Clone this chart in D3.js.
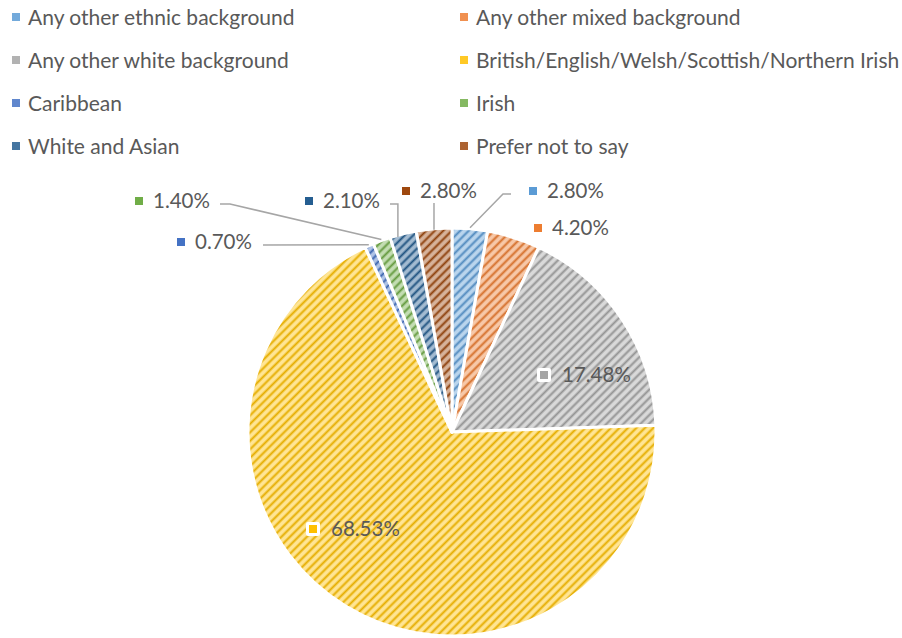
<!DOCTYPE html>
<html>
<head>
<meta charset="utf-8">
<script src="https://cdn.jsdelivr.net/npm/d3@7"></script>
<style>
  html, body { margin: 0; padding: 0; background: #fff; }
  svg { display: block; }
  text { font-family: Lato, "Open Sans", sans-serif; fill: #595959; }
</style>
</head>
<body>
<svg id="chart" width="902" height="638"></svg>
<script>
// Ethnic background of respondents (share of total, %)
const categories = [
  "Any other ethnic background",
  "Any other mixed background",
  "Any other white background",
  "British/English/Welsh/Scottish/Northern Irish",
  "Caribbean",
  "Irish",
  "White and Asian",
  "Prefer not to say"
];
const values = [2.80, 4.20, 17.48, 68.53, 0.70, 1.40, 2.10, 2.80];
const valueLabels = ["2.80%", "4.20%", "17.48%", "68.53%", "0.70%", "1.40%", "2.10%", "2.80%"];
const colors = ["#5B9BD5", "#ED7D31", "#A5A5A5", "#FFC000", "#4472C4", "#70AD47", "#255E91", "#9E480E"];

// Layout
const width = 902, height = 638;
const cx = 452, cy = 432, radius = 204;

// Data label placement: offsets of the label key (px) from the pie centre,
// and how the leader line is routed back to the slice.
const labelLayout = [
  { dx: 77,  dy: -245, leader: "left" },
  { dx: 82,  dy: -208, leader: "none" },
  { dx: 88,  dy: -61,  leader: "none", boxed: true },
  { dx: -143, dy: 93,  leader: "none", boxed: true },
  { dx: -275, dy: -194, leader: "flat" },
  { dx: -317, dy: -235, leader: "left" },
  { dx: -147, dy: -235, leader: "drop" },
  { dx: -50,  dy: -245, leader: "down" }
];

const svg = d3.select("#chart");
const defs = svg.append("defs");

// Hatched fills: upward diagonals over a light tint of the series colour
colors.forEach((c, i) => {
  const tint = d3.interpolateRgb(c, "#ffffff")(0.58);
  const stripe = d3.color(c).darker(0.3).formatHex();
  const p = defs.append("pattern")
    .attr("id", "hatch" + i)
    .attr("patternUnits", "userSpaceOnUse")
    .attr("width", 6).attr("height", 6)
    .attr("patternTransform", "rotate(45)");
  p.append("rect").attr("width", 6).attr("height", 6).attr("fill", tint);
  p.append("line").attr("x1", 1.5).attr("y1", 0).attr("x2", 1.5).attr("y2", 6)
    .attr("stroke", stripe).attr("stroke-width", 2);
});

const data = categories.map((name, i) => ({ name, value: values[i], label: valueLabels[i], i }));

const pie = d3.pie().value(d => d.value).sort(null).startAngle(0).endAngle(2 * Math.PI);
const arc = d3.arc().innerRadius(0).outerRadius(radius);
const arcs = pie(data);

const g = svg.append("g").attr("transform", `translate(${cx},${cy})`);

g.selectAll("path.slice")
  .data(arcs)
  .join("path")
  .attr("class", "slice")
  .attr("d", arc)
  .attr("fill", d => `url(#hatch${d.data.i})`)
  .attr("stroke", "#ffffff")
  .attr("stroke-width", 3)
  .attr("stroke-linejoin", "round");

// Leader lines
const edge = d => {
  const a = (d.startAngle + d.endAngle) / 2;
  return [Math.sin(a) * (radius + 1), -Math.cos(a) * (radius + 1)];
};
const labelSize = 20.5;
arcs.forEach(d => {
  const L = labelLayout[d.data.i];
  if (L.leader === "none") return;
  const [ex, ey] = edge(d);
  const keyCy = L.dy + 4;
  let pts;
  if (L.leader === "left") {
    const sx = L.dx < 0 ? L.dx + 85 : L.dx - 18;
    pts = [[sx, keyCy + 3], [sx + (L.dx < 0 ? 10 : -8), keyCy + 3], [ex, ey]];
  } else if (L.leader === "flat") {
    pts = [[L.dx + 86, keyCy + 3], [ex, ey]];
  } else if (L.leader === "drop") {
    pts = [[L.dx + 85, keyCy + 3], [ex - 5, keyCy + 3], [ex - 5, ey + 4]];
  } else if (L.leader === "down") {
    pts = [[ex, keyCy + 12], [ex, ey + 2]];
  }
  g.append("path")
    .attr("d", d3.line()(pts))
    .attr("fill", "none")
    .attr("stroke", "#A6A6A6")
    .attr("stroke-width", 1.5);
});

// Data labels with legend keys
arcs.forEach(d => {
  const L = labelLayout[d.data.i];
  const lg = g.append("g").attr("transform", `translate(${L.dx},${L.dy})`);
  if (L.boxed) {
    lg.append("rect").attr("x", -3).attr("y", -3).attr("width", 14).attr("height", 14)
      .attr("rx", 2).attr("fill", "#ffffff");
  }
  lg.append("rect").attr("x", 0).attr("y", 0).attr("width", 8).attr("height", 8)
    .attr("fill", colors[d.data.i]);
  lg.append("text")
    .attr("x", L.boxed ? 22 : 18)
    .attr("y", 11)
    .attr("font-size", labelSize)
    .text(d.data.label);
});

// Legend: two columns, four rows
const legendCols = [12, 460];
const legendRows = [13, 56, 99, 142];
const legend = svg.append("g");
data.forEach((d, i) => {
  const x = legendCols[i % 2], y = legendRows[Math.floor(i / 2)];
  const item = legend.append("g").attr("transform", `translate(${x},${y})`);
  item.append("rect").attr("width", 8).attr("height", 8)
    .attr("fill", colors[i]).attr("fill-opacity", 0.85);
  item.append("text").attr("x", 16).attr("y", 11.5).attr("font-size", 21).text(d.name);
});
</script>
</body>
</html>
